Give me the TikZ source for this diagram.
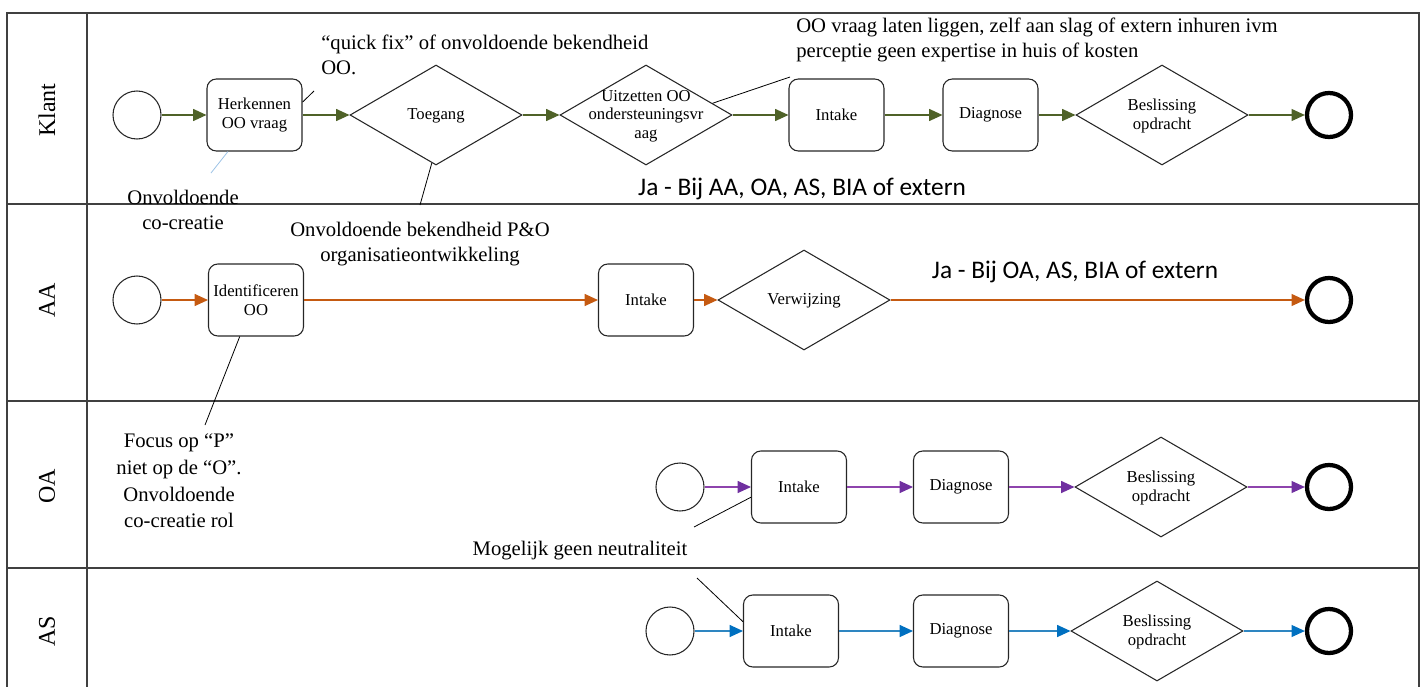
\documentclass[tikz,border=0pt]{standalone}
\usepackage{fontspec}
\setmainfont{Liberation Serif}
\newfontfamily\calfont{Carlito}
\usetikzlibrary{arrows.meta,shapes.geometric}
\definecolor{klantc}{HTML}{4F6228}
\definecolor{aac}{HTML}{C55A11}
\definecolor{oac}{HTML}{8E44AD}
\definecolor{oahead}{HTML}{7030A0}
\definecolor{asc}{HTML}{2E86C1}
\definecolor{ashead}{HTML}{0070C0}
\definecolor{notec}{HTML}{9DC3E6}
% gateway labels take no room, so every diamond keeps its set size
\newcommand{\gatetext}[1]{\makebox[0pt]{\smash{\raisebox{-0.3em}{\begin{tabular}[c]{@{}c@{}}#1\end{tabular}}}}}
\begin{document}
\begin{tikzpicture}[x=0.75pt,y=-0.75pt,
  lane/.style={draw=black!75,line width=1.3pt},
  task/.style={draw=black!85,line width=0.8pt,rounded corners=7pt,minimum width=71.25pt,minimum height=54pt,
    inner sep=1pt,align=center,font=\fontsize{12.5}{14}\selectfont},
  gate/.style={draw=black!85,line width=0.8pt,diamond,minimum width=129pt,minimum height=75pt,
    inner sep=0pt,font=\fontsize{12.5}{14}\selectfont},
  startev/.style={draw=black!85,line width=0.8pt,circle,minimum size=36pt,inner sep=0pt},
  endev/.style={draw=black,line width=3.2pt,circle,minimum size=33pt,inner sep=0pt},
  flow/.style={line width=0.9pt,-{Triangle[length=10pt,width=9pt]}},
  flowK/.style={flow,draw=klantc},
  flowA/.style={flow,draw=aac},
  flowO/.style={line width=0.9pt,draw=oac,-{Triangle[length=10pt,width=9pt,fill=oahead,color=oahead]}},
  flowS/.style={line width=0.9pt,draw=asc,-{Triangle[length=10pt,width=9pt,fill=ashead,color=ashead]}},
  note/.style={draw=black,line width=0.6pt},
  notetext/.style={inner sep=0pt,font=\fontsize{15.5}{18.75}\selectfont},
  lanelabel/.style={rotate=90,font=\fontsize{18}{20}\selectfont},
  answer/.style={inner sep=0pt,font=\calfont\fontsize{19}{22}\selectfont}
]
\useasboundingbox (0,0) rectangle (1424,686);

% pool frame and lanes
\draw[lane] (7,690) -- (7,13) -- (1419,13) -- (1419,690);
\draw[lane] (87,13) -- (87,690);
\draw[lane] (7,204) -- (1419,204);
\draw[lane] (7,401) -- (1419,401);
\draw[lane] (7,568) -- (1419,568);

\node[lanelabel] (lk) at (47,110) {Klant};
\node[lanelabel] (la) at (47,300) {AA};
\node[lanelabel] (lo) at (47,486) {OA};
\node[lanelabel] (ls) at (47,631) {AS};

% lane Klant
\node[startev] (k0) at (137,115) {};
\node[task] (k1) at (254.5,115) {Herkennen\\OO vraag};
\node[gate] (k2) at (436,115) {\gatetext{Toegang}};
\node[gate] (k3) at (646,115) {\gatetext{Uitzetten OO\\ondersteuningsvr\\aag}};
\node[task] (k4) at (836.5,115) {Intake};
\node[task] (k5) at (990.5,115) {Diagnose};
\node[gate] (k6) at (1162,115) {\gatetext{Beslissing\\opdracht}};
\node[endev] (k7) at (1329,115) {};
\draw[flowK] (k0) -- (k1);
\draw[flowK] (k1) -- (k2);
\draw[flowK] (k2) -- (k3);
\draw[flowK] (k3) -- (k4);
\draw[flowK] (k4) -- (k5);
\draw[flowK] (k5) -- (k6);
\draw[flowK] (k6) -- (k7);

% lane AA
\node[startev] (a0) at (137,300) {};
\node[task] (a1) at (256,300) {Identificeren\\OO};
\node[task] (a2) at (646,300) {Intake};
\node[gate] (a3) at (804,300) {\gatetext{Verwijzing}};
\node[endev] (a4) at (1329,300) {};
\draw[flowA] (a0) -- (a1);
\draw[flowA] (a1) -- (a2);
\draw[flowA] (a2) -- (a3);
\draw[flowA] (a3) -- (a4);

% lane OA
\node[startev] (o0) at (680,487) {};
\node[task] (o1) at (799,487) {Intake};
\node[task] (o2) at (961,487) {Diagnose};
\node[gate] (o3) at (1161,487) {\gatetext{Beslissing\\opdracht}};
\node[endev] (o4) at (1329,487) {};
\draw[flowO] (o0) -- (o1);
\draw[flowO] (o1) -- (o2);
\draw[flowO] (o2) -- (o3);
\draw[flowO] (o3) -- (o4);

% lane AS
\node[startev] (s0) at (670,631) {};
\node[task] (s1) at (791,631) {Intake};
\node[task] (s2) at (961,631) {Diagnose};
\node[gate] (s3) at (1157,631) {\gatetext{Beslissing\\opdracht}};
\node[endev] (s4) at (1329,631) {};
\draw[flowS] (s0) -- (s1);
\draw[flowS] (s1) -- (s2);
\draw[flowS] (s2) -- (s3);
\draw[flowS] (s3) -- (s4);

% annotations
\node[notetext,anchor=west,align=left] (n1) at (321,54.5) {“quick fix” of onvoldoende bekendheid\\OO.};
\coordinate (c1) at (314,91);
\draw[note] (k1.15) -- (c1);

\node[notetext,align=center] (n2) at (183,209.5) {Onvoldoende\\co-creatie};
\coordinate (c2) at (211,173);
\draw[note,draw=notec] (k1.234) -- (c2);

\node[notetext,align=center] (n3) at (420,244.5) {Onvoldoende bekendheid P\&O\\organisatieontwikkeling};
\coordinate (c3) at (420,205);
\draw[note] (k2.265) -- (c3);

\node[notetext,anchor=west,align=left] (n4) at (796,39.5) {OO vraag laten liggen, zelf aan slag of extern inhuren ivm\\perceptie geen expertise in huis of kosten};
\coordinate (c4) at (790,77);
\draw[note] (k3.10) -- (c4);

\node[answer] (j1) at (802,189) {Ja - Bij AA, OA, AS, BIA of extern};
\node[answer] (j2) at (1075,272) {Ja - Bij OA, AS, BIA of extern};

\node[notetext,align=center,font=\fontsize{15.5}{20}\selectfont] (n5) at (179,481) {Focus op “P”\\niet op de “O”.\\Onvoldoende\\co-creatie rol};
\coordinate (c5) at (205,425);
\draw[note] (a1.246) -- (c5);

\node[notetext] (n6) at (580,551) {Mogelijk geen neutraliteit};
\coordinate (c6) at (694,527);
\draw[note] (o1.192) -- (c6);
\coordinate (c7) at (697,578);
\draw[note] (s1.169) -- (c7);
\end{tikzpicture}
\end{document}
